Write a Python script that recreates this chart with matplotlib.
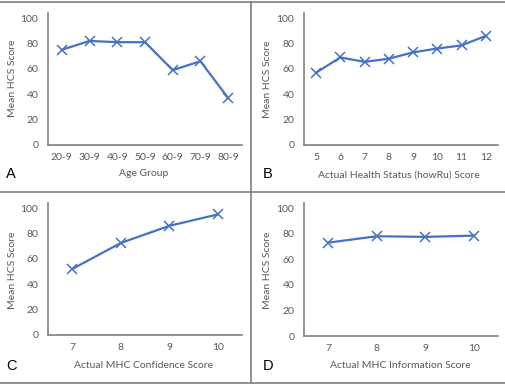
import numpy as np
import matplotlib
matplotlib.use('Agg')
from matplotlib import pyplot as plt
from matplotlib.lines import Line2D

# panel data
age_groups = ['20-9', '30-9', '40-9', '50-9', '60-9', '70-9', '80-9']
age_hcs = [75, 82, 81, 81, 59, 66, 37]

health_scores = ['5', '6', '7', '8', '9', '10', '11', '12']
health_hcs = [57, 69, 65.5, 68, 73, 76, 78.5, 86]

conf_scores = ['7', '8', '9', '10']
conf_hcs = [52, 72.5, 86, 95]

info_scores = ['7', '8', '9', '10']
info_hcs = [73, 78, 77.5, 78.5]

W, H = 506, 385
BLUE = '#4472C4'
GREY = '#595959'
FONT = 'Lato'

fig = plt.figure(figsize=(W / 100, H / 100), dpi=100)


def px_axes(left, top, right, bottom):
    return fig.add_axes([left / W, 1 - bottom / H, (right - left) / W, (bottom - top) / H])


def panel(box, cats, vals, xlabel, letter, xlab_pos, ylab_pos, letter_pos):
    ax = px_axes(*box)
    x = np.arange(len(cats))
    ax.plot(x, vals, color=BLUE, lw=1.6, marker='x', ms=7, mew=1.1)
    ax.set_xlim(-0.5, len(cats) - 0.5)
    ax.set_ylim(0, 104)
    ax.set_yticks([0, 20, 40, 60, 80, 100])
    ax.set_xticks(x)
    ax.set_xticklabels(cats)
    for s in ['top', 'right']:
        ax.spines[s].set_visible(False)
    for s in ['left', 'bottom']:
        ax.spines[s].set_color('#7f7f7f')
        ax.spines[s].set_linewidth(1.2)
    ax.tick_params(length=0, labelsize=7.5, labelcolor=GREY)
    ax.tick_params(axis='x', pad=6)
    ax.tick_params(axis='y', pad=7)
    for t in ax.get_xticklabels() + ax.get_yticklabels():
        t.set_fontfamily(FONT)
    fig.text(xlab_pos[0] / W, 1 - xlab_pos[1] / H, xlabel, ha='center', va='center',
             fontsize=7.5, color=GREY, family=FONT)
    fig.text(ylab_pos[0] / W, 1 - ylab_pos[1] / H, 'Mean HCS Score', ha='center', va='center',
             rotation=90, fontsize=7.5, color=GREY, family=FONT)
    fig.text(letter_pos[0] / W, 1 - letter_pos[1] / H, letter, ha='left', va='center',
             fontsize=10.5, color='black', family='Liberation Sans')
    return ax


panel((48, 13, 242, 145), age_groups, age_hcs, 'Age Group', 'A',
      (144, 174), (13, 78), (6, 174))
panel((304, 13, 498, 145), health_scores, health_hcs, 'Actual Health Status (howRu) Score', 'B',
      (399, 175), (268, 79), (263, 174))
panel((48, 203, 242, 335), conf_scores, conf_hcs, 'Actual MHC Confidence Score', 'C',
      (144, 365), (13, 270), (6, 366))
panel((304, 203, 498, 336), info_scores, info_hcs, 'Actual MHC Information Score', 'D',
      (400, 365), (268, 270), (263, 366))

# frame lines between panels
frame = dict(color='#7f7f7f', lw=1.2, transform=fig.transFigure)
for yy in [1.5, 191.5, 382.5]:
    fig.add_artist(Line2D([0, 1], [1 - yy / H, 1 - yy / H], **frame))
fig.add_artist(Line2D([251 / W, 251 / W], [1 - 1.5 / H, 1 - 382.5 / H], **frame))

fig.savefig('out.png', dpi=100)
